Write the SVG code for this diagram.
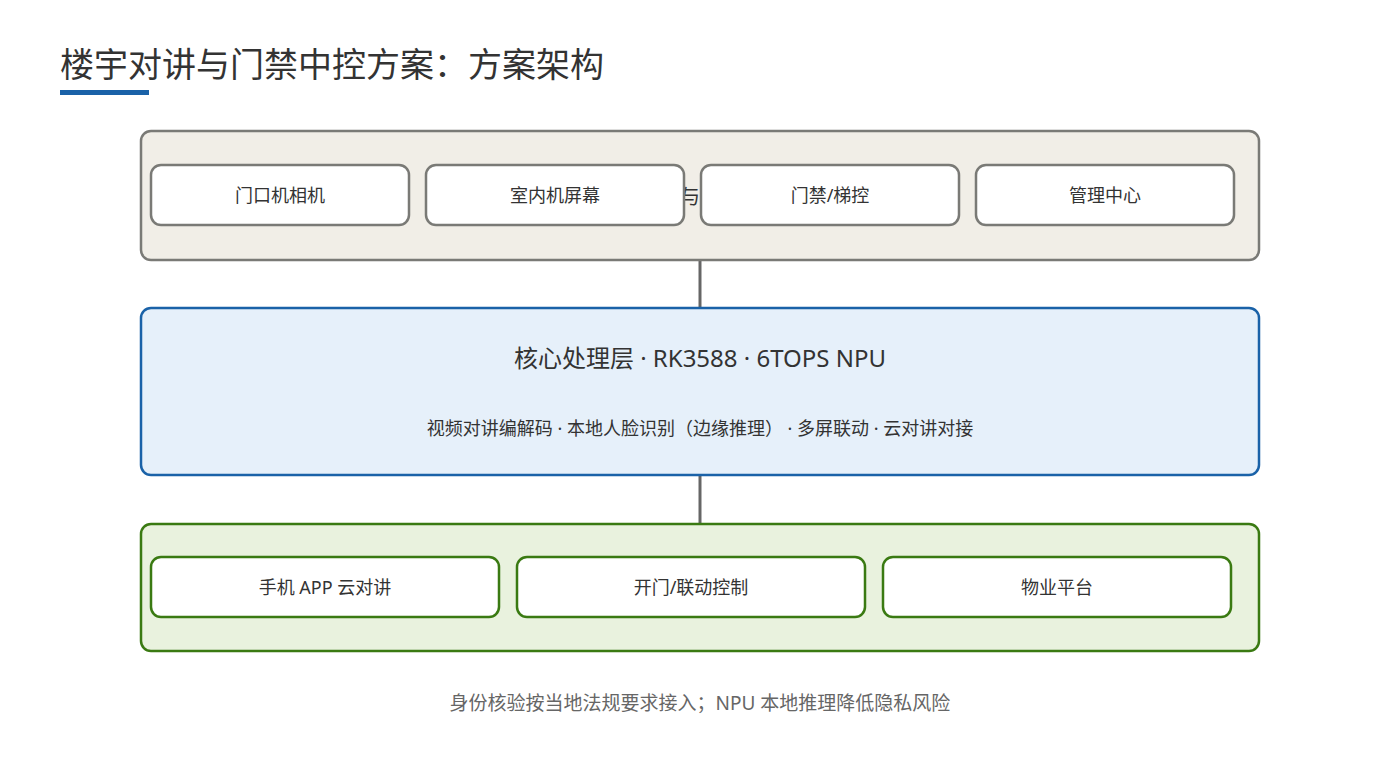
<svg xmlns="http://www.w3.org/2000/svg" width="1400" height="760" viewBox="0 0 1400 760">
<style>
text{font-family:"Noto Sans","Noto Sans CJK SC",sans-serif;fill:#333;}
.layer{stroke-width:2.5}
.box{fill:#fff;stroke-width:2.5}
.g{stroke:#7a7a76}
.gr{stroke:#3a7a12}
.lbl{font-size:18px;text-anchor:middle}
</style>
<rect width="1400" height="760" fill="#fff"/>
<text x="60" y="77" font-size="34" fill="#333">楼宇对讲与门禁中控方案：方案架构</text>
<rect x="60" y="90" width="89" height="5" fill="#1a62a8"/>
<g id="connectors" stroke="#666" stroke-width="3">
<line x1="700" y1="260" x2="700" y2="308"/>
<line x1="700" y1="475" x2="700" y2="524"/>
</g>
<g id="layer-top">
<rect class="layer g" x="141" y="131" width="1118" height="129" rx="10" fill="#f1eee7"/>
<text x="690" y="204" font-size="20" text-anchor="middle">与</text>
</g>
<g id="n1"><rect class="box g" x="151" y="165" width="258" height="60" rx="10"/><text class="lbl" x="280" y="202">门口机相机</text></g>
<g id="n2"><rect class="box g" x="426" y="165" width="258" height="60" rx="10"/><text class="lbl" x="555" y="202">室内机屏幕</text></g>
<g id="n3"><rect class="box g" x="701" y="165" width="258" height="60" rx="10"/><text class="lbl" x="830" y="202">门禁/梯控</text></g>
<g id="n4"><rect class="box g" x="976" y="165" width="258" height="60" rx="10"/><text class="lbl" x="1105" y="202">管理中心</text></g>
<g id="core">
<rect class="layer" x="141" y="308" width="1118" height="167" rx="10" fill="#e6f0fa" stroke="#1a62a8"/>
<text x="700" y="367" font-size="24" text-anchor="middle">核心处理层 · RK3588 · 6TOPS NPU</text>
<text x="700" y="435" font-size="18" text-anchor="middle">视频对讲编解码 · 本地人脸识别（边缘推理） · 多屏联动 · 云对讲对接</text>
</g>
<g id="layer-bottom"><rect class="layer gr" x="141" y="524" width="1118" height="127" rx="10" fill="#e9f2de"/></g>
<g id="b1"><rect class="box gr" x="151" y="557" width="348" height="60" rx="10"/><text class="lbl" x="325" y="594">手机 APP 云对讲</text></g>
<g id="b2"><rect class="box gr" x="517" y="557" width="348" height="60" rx="10"/><text class="lbl" x="691" y="594">开门/联动控制</text></g>
<g id="b3"><rect class="box gr" x="883" y="557" width="348" height="60" rx="10"/><text class="lbl" x="1057" y="594">物业平台</text></g>
<text x="700" y="710" font-size="19" text-anchor="middle" style="fill:#666">身份核验按当地法规要求接入；NPU 本地推理降低隐私风险</text>
</svg>
